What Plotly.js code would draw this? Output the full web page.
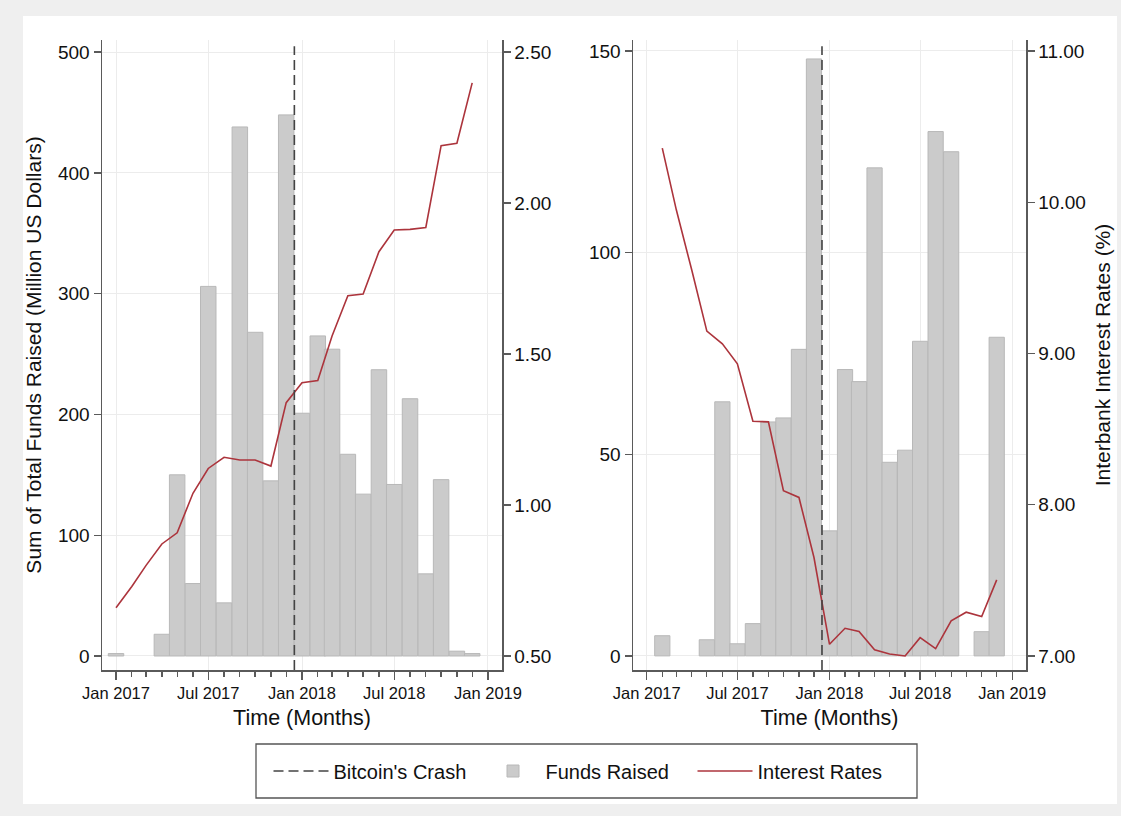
<!DOCTYPE html>
<html>
<head>
<meta charset="utf-8">
<script src="https://cdn.plot.ly/plotly-3.0.1.min.js"></script>
<style>
html, body { margin: 0; padding: 0; background: #efefef; }
#chart { width: 1121px; height: 816px; }
</style>
</head>
<body>
<div id="chart"></div>
<script>
// ---- Data ----
const months = [
  "2017-01-01","2017-02-01","2017-03-01","2017-04-01","2017-05-01","2017-06-01",
  "2017-07-01","2017-08-01","2017-09-01","2017-10-01","2017-11-01","2017-12-01",
  "2018-01-01","2018-02-01","2018-03-01","2018-04-01","2018-05-01","2018-06-01",
  "2018-07-01","2018-08-01","2018-09-01","2018-10-01","2018-11-01","2018-12-01"
];
// Left panel: funds raised (million USD) and interest rate (%)
const fundsLeft = [2, null, null, 18, 150, 60, 306, 44, 438, 268, 145, 448,
                   201, 265, 254, 167, 134, 237, 142, 213, 68, 146, 4, 2];
const rateLeft  = [0.66, 0.73, 0.80, 0.871, 0.908, 1.039, 1.121, 1.158, 1.149, 1.149, 1.129, 1.339,
                   1.405, 1.412, 1.56, 1.693, 1.699, 1.839, 1.911, 1.913, 1.919, 2.190, 2.198, 2.398];
// Right panel
const fundsRight = [null, 5, null, null, 4, 63, 3, 8, 58, 59, 76, 148,
                    31, 71, 68, 121, 48, 51, 78, 130, 125, null, 6, 79];
const rateRight  = [null, 10.358, 9.95, 9.55, 9.148, 9.064, 8.932, 8.552, 8.548, 8.093, 8.048, 7.651,
                    7.077, 7.183, 7.161, 7.040, 7.013, 7.000, 7.121, 7.048, 7.232, 7.289, 7.260, 7.503];
const crashDate = "2017-12-17";

const leftTicks = [0, 100, 200, 300, 400, 500];
const leftRateTicks = [0.5, 1.0, 1.5, 2.0, 2.5];
const rightTicks = [0, 50, 100, 150];
const rightRateTicks = [7, 8, 9, 10, 11];

const legendNames = { crash: "Bitcoin's Crash", funds: "Funds Raised", rate: "Interest Rates" };

// ---- Styles ----
const FONT = "Liberation Sans, Arial, Helvetica, sans-serif";
const axisColor = "#5a5a5a";
const gridColor = "#ececec";
const barFill = "#cbcbcb";
const barLine = "#b8b8b8";
const red = "#ac343c";
const MONTH_MS = 30.4 * 24 * 3600 * 1000;
const xRange = ["2016-12-04 12:00", "2019-01-28 12:00"];

const traces = [
  { type: "bar", x: months, y: fundsLeft, xaxis: "x", yaxis: "y",
    width: MONTH_MS, marker: { color: barFill, line: { color: barLine, width: 1 } },
    name: legendNames.funds, legendrank: 2, showlegend: true },
  { type: "scatter", mode: "lines", x: months, y: rateLeft, xaxis: "x", yaxis: "y2",
    line: { color: red, width: 1.6 }, name: legendNames.rate, legendrank: 3, showlegend: true },
  { type: "bar", x: months, y: fundsRight, xaxis: "x2", yaxis: "y3",
    width: MONTH_MS, marker: { color: barFill, line: { color: barLine, width: 1 } },
    name: legendNames.funds, showlegend: false },
  { type: "scatter", mode: "lines", x: months, y: rateRight, xaxis: "x2", yaxis: "y4",
    line: { color: red, width: 1.6 }, name: legendNames.rate, showlegend: false }
];

function xAxis(domain, anchor) {
  return {
    domain: domain, anchor: anchor, type: "date", range: xRange,
    tick0: "2017-01-01", dtick: "M6", tickformat: "%b %Y",
    ticks: "outside", ticklen: 8, tickwidth: 1.3, tickcolor: axisColor,
    showline: true, linecolor: axisColor, linewidth: 1.5,
    showgrid: true, gridcolor: gridColor, gridwidth: 1, zeroline: false,
    minor: { dtick: "M1", tick0: "2017-01-01", ticks: "outside", ticklen: 5, tickwidth: 1.3, tickcolor: axisColor, showgrid: false },
    tickfont: { family: FONT, size: 16.5, color: "#111" },
    title: { text: "Time (Months)", font: { family: FONT, size: 21.5, color: "#111" }, standoff: 8 },
    automargin: false, fixedrange: true
  };
}
function yAxis(domain, anchor, range, tickvals, fmt, side, overlay, title, grid) {
  const ax = {
    domain: domain, anchor: anchor, range: range, tickvals: tickvals, tickformat: fmt,
    side: side, ticks: "outside", ticklen: 7, tickwidth: 1.3, tickcolor: axisColor,
    showline: true, linecolor: axisColor, linewidth: 1.5,
    showgrid: grid, gridcolor: gridColor, gridwidth: 1, zeroline: false,
    tickfont: { family: FONT, size: 19, color: "#111" },
    automargin: false, fixedrange: true
  };
  if (overlay) ax.overlaying = overlay;
  if (title) ax.title = { text: title, font: { family: FONT, size: 21, color: "#111" }, standoff: 10 };
  return ax;
}

const yDom = [1 - 670 / 816, 1 - 40 / 816];
const layout = {
  width: 1121, height: 816,
  margin: { l: 0, r: 0, t: 0, b: 0, pad: 0 },
  paper_bgcolor: "#efefef", plot_bgcolor: "rgba(0,0,0,0)",
  font: { family: FONT, color: "#111" },
  barmode: "overlay", bargap: 0,
  xaxis: xAxis([102 / 1121, 502 / 1121], "y"),
  yaxis: yAxis(yDom, "x", [-11.6, 510], leftTicks, "d", "left", null,
               "Sum of Total Funds Raised (Million US Dollars)", true),
  yaxis2: yAxis(yDom, "x", [0.4536, 2.54], leftRateTicks, ".2f", "right", "y", null, false),
  xaxis2: xAxis([633 / 1121, 1026 / 1121], "y3"),
  yaxis3: yAxis(yDom, "x2", [-3.5, 152.7], rightTicks, "d", "left", null, null, true),
  yaxis4: yAxis(yDom, "x2", [6.907, 11.073], rightRateTicks, ".2f", "right", "y3",
               "Interbank Interest Rates (%)", false),
  shapes: [
    // white page panel inside grey frame
    { type: "rect", xref: "paper", yref: "paper", x0: 23 / 1121, x1: 1117 / 1121,
      y0: 1 - 804 / 816, y1: 1 - 16 / 816, fillcolor: "#ffffff", line: { width: 0 }, layer: "below" },
    // legend frame
    { type: "rect", xref: "paper", yref: "paper", x0: 256 / 1121, x1: 917 / 1121,
      y0: 1 - 798 / 816, y1: 1 - 744 / 816, fillcolor: "#ffffff",
      line: { color: "#555", width: 1.3 }, layer: "below" },
    { type: "line", xref: "x", yref: "y domain", x0: crashDate, x1: crashDate, y0: 0, y1: 0.99,
      line: { color: "#444", width: 1.6, dash: "10px,5px" },
      name: legendNames.crash, showlegend: true, legendrank: 1 },
    { type: "line", xref: "x2", yref: "y3 domain", x0: crashDate, x1: crashDate, y0: 0, y1: 0.99,
      line: { color: "#444", width: 1.6, dash: "10px,5px" }, showlegend: false }
  ],
  legend: {
    orientation: "h", x: 586.5 / 1121, y: 1 - 771 / 816, xanchor: "center", yanchor: "middle",
    bgcolor: "rgba(0,0,0,0)", borderwidth: 0,
    font: { family: FONT, size: 20, color: "#111" }, itemwidth: 55,
    entrywidth: 142, entrywidthmode: "pixels",
    traceorder: "normal"
  },
  showlegend: true,
  hovermode: false
};

Plotly.newPlot("chart", traces, layout, { displayModeBar: false, staticPlot: true });
</script>
</body>
</html>
